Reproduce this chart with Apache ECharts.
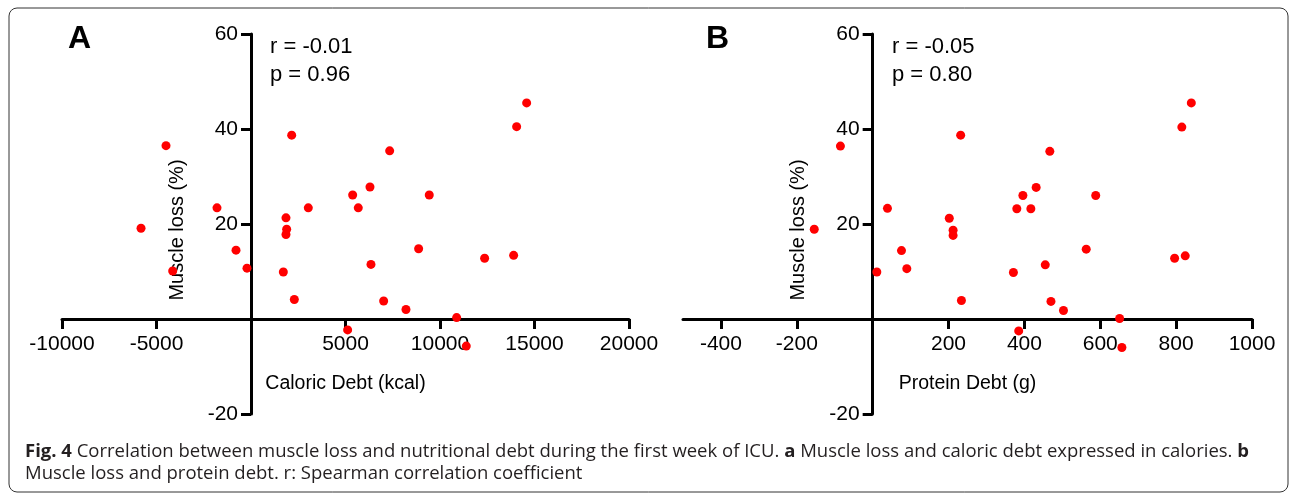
<!DOCTYPE html>
<html>
<head>
<meta charset="utf-8">
<script src="https://cdn.jsdelivr.net/npm/echarts@6/dist/echarts.min.js"></script>
<style>
  html, body { margin: 0; padding: 0; background: #fff; }
  #chart { width: 1293px; height: 494px; }
</style>
</head>
<body>
<div id="chart"></div>
<script>
// panel A: caloric debt (kcal) vs muscle loss (%)
const caloricDebt = [-5819, -4497, -4143, -1799, -793, -212, 1711, 1851, 1887, 1851, 2153, 2292, 3032, 5113, 5379,
  5676, 6295, 6348, 7019, 7337, 8200, 8869, 9432, 10880, 11390, 12361, 13896, 14055, 14585];
const muscleLossA = [19.1, 36.5, 10.1, 23.4, 14.5, 10.7, 9.9, 21.3, 18.9, 17.8, 38.7, 4.1, 23.4, -2.3, 26.1,
  23.4, 27.8, 11.5, 3.8, 35.4, 2.0, 14.8, 26.1, 0.3, -5.7, 12.8, 13.4, 40.5, 45.5];

// panel B: protein debt (g) vs muscle loss (%)
const proteinDebt = [-154, -85, 11, 39, 76, 90, 202, 212, 212, 232, 234, 371, 380, 385, 396,
  417, 431, 455, 467, 470, 503, 563, 588, 651, 657, 796, 815, 824, 840];
const muscleLossB = [18.9, 36.4, 9.9, 23.3, 14.4, 10.6, 21.2, 18.7, 17.6, 38.7, 3.9, 9.8, 23.2, -2.5, 26.0,
  23.2, 27.7, 11.4, 35.3, 3.7, 1.8, 14.7, 26.0, 0.1, -6.0, 12.8, 40.4, 13.3, 45.5];

const xTicksB = [-400, -200, 0, 200, 400, 600, 800, 1000];
const xLabelsB = [-400, -200, 200, 400, 600, 800, 1000];

const statsA = ["r = -0.01", "p = 0.96"];
const statsB = ["r = -0.05", "p = 0.80"];

const chart = echarts.init(document.getElementById("chart"));

const axisFont = "Liberation Sans, Arial, sans-serif";
const black = "#000";
const labelSize = 21;

const gridA = { left: 62, top: 34, width: 567, height: 380 };
const gridB = { left: 683, top: 34, width: 569, height: 380 };
const yMin = -20, yMax = 60;

// axes cross at the origin: shift each axis from the grid edge to the zero line
function zeroOffset(min, max, size) {
  return -((0 - min) / (max - min)) * size;
}
const xOffset = zeroOffset(yMin, yMax, gridA.height);

function xAxisOpt(name, extra) {
  return Object.assign({
    type: "value",
    name: name,
    nameLocation: "middle",
    nameGap: 55,
    offset: xOffset,
    nameTextStyle: { fontFamily: axisFont, fontSize: 19.5, color: black },
    splitLine: { show: false },
    axisLine: { onZero: false, lineStyle: { color: black, width: 3 } },
    axisTick: { length: 10, lineStyle: { color: black, width: 3 } },
    axisLabel: {
      fontFamily: axisFont, fontSize: labelSize, color: black, margin: 15,
      formatter: (v) => (v === 0 ? "" : String(v)),
    },
  }, extra);
}

function yAxisOpt(gridIndex, offset) {
  return {
    type: "value",
    gridIndex: gridIndex,
    min: yMin,
    max: yMax,
    interval: 20,
    offset: offset,
    name: "Muscle loss (%)",
    nameLocation: "middle",
    nameRotate: 90,
    nameGap: 64,
    nameTextStyle: { fontFamily: axisFont, fontSize: 20, color: black, padding: [0, 12, 0, 0] },
    splitLine: { show: false },
    axisLine: { onZero: false, lineStyle: { color: black, width: 3 } },
    axisTick: { length: 10, lineStyle: { color: black, width: 3 } },
    axisLabel: {
      fontFamily: axisFont, fontSize: labelSize, color: black, margin: 13,
      formatter: (v) => (v === 0 ? "" : String(v)),
    },
  };
}

function statsText(x, lines) {
  return {
    type: "text",
    left: x,
    top: 33,
    style: {
      text: lines.join("\n"),
      fontFamily: axisFont,
      fontSize: 22,
      lineHeight: 28,
      fill: black,
    },
  };
}

function panelLetter(x, s) {
  return {
    type: "text",
    left: x,
    top: 23,
    style: { text: s, fontFamily: axisFont, fontSize: 32, fontWeight: "bold", fill: black },
  };
}

const captionFont = 18.5;
const captionRich = {
  b: { fontFamily: "Open Sans", fontSize: captionFont, fontWeight: "bold", fill: "#231f20" },
};

const option = {
  animation: false,
  grid: [
    Object.assign({ outerBoundsMode: "none", containLabel: false }, gridA),
    Object.assign({ outerBoundsMode: "none", containLabel: false }, gridB),
  ],
  xAxis: [
    xAxisOpt("Caloric Debt (kcal)", { gridIndex: 0, min: -10000, max: 20000, interval: 5000 }),
    xAxisOpt("Protein Debt (g)", {
      gridIndex: 1, min: -500, max: 1000, interval: 100,
      axisTick: { length: 10, customValues: xTicksB, lineStyle: { color: black, width: 3 } },
      axisLabel: {
        fontFamily: axisFont, fontSize: labelSize, color: black, margin: 15,
        customValues: xLabelsB,
        formatter: (v) => String(v),
      },
    }),
  ],
  yAxis: [
    yAxisOpt(0, zeroOffset(-10000, 20000, gridA.width)),
    yAxisOpt(1, zeroOffset(-500, 1000, gridB.width)),
  ],
  series: [
    {
      type: "scatter",
      xAxisIndex: 0,
      yAxisIndex: 0,
      symbolSize: 9,
      itemStyle: { color: "#ff0000", opacity: 1 },
      data: caloricDebt.map((x, i) => [x, muscleLossA[i]]),
    },
    {
      type: "scatter",
      xAxisIndex: 1,
      yAxisIndex: 1,
      symbolSize: 9,
      itemStyle: { color: "#ff0000", opacity: 1 },
      data: proteinDebt.map((x, i) => [x, muscleLossB[i]]),
    },
  ],
  graphic: [
    {
      type: "rect",
      shape: { x: 9, y: 8, width: 1279, height: 484, r: 8 },
      style: { fill: null, stroke: "#333", lineWidth: 1 },
    },
    panelLetter(68, "A"),
    panelLetter(706, "B"),
    statsText(270, statsA),
    statsText(892, statsB),
    {
      type: "text",
      left: 25,
      top: 442,
      style: {
        text: "{b|Fig. 4} Correlation between muscle loss and nutritional debt during the first week of ICU. {b|a} Muscle loss and caloric debt expressed in calories. {b|b}",
        fontFamily: "Open Sans",
        fontSize: captionFont,
        fill: "#231f20",
        rich: captionRich,
      },
    },
    {
      type: "text",
      left: 25,
      top: 464,
      style: {
        text: "Muscle loss and protein debt. r: Spearman correlation coefficient",
        fontFamily: "Open Sans",
        fontSize: captionFont,
        fill: "#231f20",
      },
    },
  ],
};

chart.setOption(option);
</script>
</body>
</html>
